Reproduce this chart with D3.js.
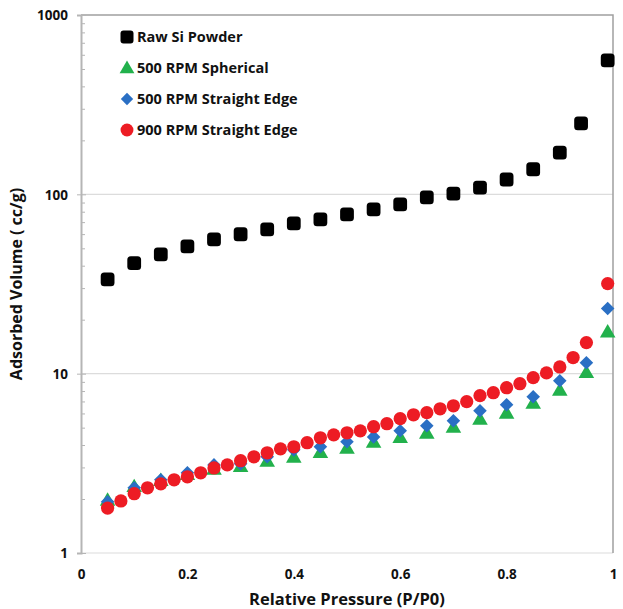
<!DOCTYPE html>
<meta charset="utf-8">
<script src="https://d3js.org/d3.v7.min.js"></script>
<style>
  body { margin: 0; background: #fff; }
  text { font-family: "Open Sans", "DejaVu Sans", sans-serif; font-weight: bold; fill: #111; }
</style>
<div id="my_dataviz"></div>
<script>

// series names
var seriesNames = ["Raw Si Powder", "500 RPM Spherical", "500 RPM Straight Edge", "900 RPM Straight Edge"];

// relative pressure for raw, spherical and 500 rpm straight edge
var pRaw = [0.05, 0.10, 0.15, 0.20, 0.25, 0.30, 0.35, 0.40, 0.45, 0.50, 0.55, 0.60, 0.65, 0.70, 0.75, 0.80, 0.85, 0.90, 0.94, 0.99];
var vRaw = [33.6, 41.3, 46.3, 51.3, 56.1, 59.9, 63.8, 68.9, 72.6, 77.4, 82.5, 88.0, 96.2, 101, 109, 121, 138, 171, 249, 558];

var p500 = [0.05, 0.10, 0.15, 0.20, 0.25, 0.30, 0.35, 0.40, 0.45, 0.50, 0.55, 0.60, 0.65, 0.70, 0.75, 0.80, 0.85, 0.90, 0.95, 0.99];
var vSpherical = [1.98, 2.36, 2.55, 2.76, 2.95, 3.06, 3.27, 3.44, 3.66, 3.86, 4.17, 4.44, 4.68, 5.06, 5.61, 6.06, 6.88, 8.14, 10.2, 17.2];
var vStraight500 = [1.93, 2.31, 2.56, 2.80, 3.10, 3.15, 3.44, 3.76, 3.91, 4.17, 4.44, 4.80, 5.12, 5.46, 6.21, 6.71, 7.44, 9.14, 11.5, 23.1];

// 900 rpm has twice as many points
var p900 = [0.05, 0.075, 0.10, 0.125, 0.15, 0.175, 0.20, 0.225, 0.25, 0.275, 0.30, 0.325, 0.35, 0.375, 0.40, 0.425, 0.45, 0.475,
            0.50, 0.525, 0.55, 0.575, 0.60, 0.625, 0.65, 0.675, 0.70, 0.725, 0.75, 0.775, 0.80, 0.825, 0.85, 0.875, 0.90, 0.925, 0.95, 0.99];
var vStraight900 = [1.78, 1.95, 2.14, 2.31, 2.43, 2.56, 2.66, 2.80, 2.98, 3.10, 3.27, 3.44, 3.62, 3.81, 3.91, 4.12, 4.39, 4.56,
                    4.68, 4.80, 5.06, 5.26, 5.61, 5.90, 6.06, 6.37, 6.62, 6.98, 7.54, 7.83, 8.35, 8.79, 9.50, 10.1, 10.9, 12.3, 14.9, 31.8];

var xTicks = [0, 0.2, 0.4, 0.6, 0.8, 1];
var yTicks = [1, 10, 100, 1000];

// set the dimensions and margins of the graph
var margin = {top: 15, right: 10, bottom: 56, left: 81},
    width = 623 - margin.left - margin.right,
    height = 609 - margin.top - margin.bottom;

var svg = d3.select("#my_dataviz")
  .append("svg")
    .attr("width", 623)
    .attr("height", 609)
  .append("g")
    .attr("transform", "translate(" + margin.left + "," + margin.top + ")");

var x = d3.scaleLinear().domain([0, 1]).range([0, width]);
var y = d3.scaleLog().domain([1, 1000]).range([height, 0]);

// gridlines at the decades
svg.append("g")
  .selectAll("line")
  .data(yTicks.slice(0, 3))
  .enter()
  .append("line")
    .attr("x1", 0).attr("x2", width)
    .attr("y1", function(d) { return y(d); })
    .attr("y2", function(d) { return y(d); })
    .attr("stroke", "#dcdcdc")
    .attr("stroke-width", 1.2);

// top and right border
svg.append("path")
  .attr("d", "M0," + y(1000) + "H" + width + "V" + y(1))
  .attr("fill", "none")
  .attr("stroke", "#a0a0a0")
  .attr("stroke-width", 1.5);

// minor ticks on the log axis
var minor = [];
yTicks.slice(0, 3).forEach(function(d) {
  for (var k = 2; k < 10; k++) minor.push(d * k);
});
svg.append("g")
  .call(d3.axisLeft(y).tickValues(minor).tickSize(-4).tickFormat(""))
  .call(function(g) { g.select(".domain").remove(); })
  .selectAll("line").attr("stroke", "#b5b5b5");

// Y axis
var yAxis = svg.append("g")
  .call(d3.axisLeft(y).tickValues(yTicks).tickSize(4).tickPadding(9).tickFormat(d3.format("d")));
yAxis.select(".domain").attr("stroke", "#b5b5b5").attr("stroke-width", 2);
yAxis.selectAll("line").attr("stroke", "#b5b5b5").attr("x2", -4).attr("x1", 5);
yAxis.selectAll("text").style("font-size", "13.5px").attr("dy", "0.35em");

// X axis
var xAxis = svg.append("g")
  .attr("transform", "translate(0," + height + ")")
  .call(d3.axisBottom(x).tickValues(xTicks).tickSize(0).tickPadding(16).tickFormat(function(d) { return d; }));
xAxis.select(".domain").remove();
xAxis.selectAll("text").style("font-size", "13.5px");

// axis titles
svg.append("text")
  .attr("x", width / 2)
  .attr("y", height + 52)
  .attr("text-anchor", "middle")
  .style("font-size", "16.5px")
  .text("Relative Pressure (P/P0)");

svg.append("text")
  .attr("transform", "rotate(-90)")
  .attr("x", -(y(1) - 269))
  .attr("y", -59)
  .attr("text-anchor", "middle")
  .style("font-size", "16px")
  .text("Adsorbed Volume ( cc/g)");

// marker shapes
var colors = ["#000000", "#22b14c", "#2a6fc4", "#ed1c24"];
var shapes = [d3.symbolSquare, d3.symbolTriangle, d3.symbolSquare, d3.symbolCircle];
var sizes = [190, 105, 92, 138];
var rot = [0, 0, 45, 0];

function marker(i, size) {
  return d3.symbol().type(shapes[i]).size(size)();
}

function drawSeries(i, px, py) {
  var data = px.map(function(d, j) { return {p: d, v: py[j]}; });
  var g = svg.append("g");
  if (i == 0) {
    var s = Math.sqrt(sizes[0]);
    g.selectAll("rect").data(data).enter().append("rect")
      .attr("x", function(d) { return x(d.p) - s / 2; })
      .attr("y", function(d) { return y(d.v) - s / 2; })
      .attr("width", s).attr("height", s)
      .attr("rx", 3.5)
      .attr("fill", colors[0]);
  } else {
    g.selectAll("path").data(data).enter().append("path")
      .attr("transform", function(d) {
        var dy = (i == 1) ? 1.5 : 0;
        return "translate(" + x(d.p) + "," + (y(d.v) + dy) + ") rotate(" + rot[i] + ")";
      })
      .attr("d", marker(i, sizes[i]))
      .attr("fill", colors[i]);
  }
}

drawSeries(0, pRaw, vRaw);
drawSeries(1, p500, vSpherical);
drawSeries(2, p500, vStraight500);
drawSeries(3, p900, vStraight900);

// legend
var legend = svg.append("g").attr("transform", "translate(46,22)");
seriesNames.forEach(function(name, i) {
  var row = legend.append("g").attr("transform", "translate(0," + (i * 31) + ")");
  if (i == 0) {
    row.append("rect").attr("x", -6.5).attr("y", -6.5).attr("width", 13).attr("height", 13)
      .attr("rx", 3).attr("fill", colors[0]);
  } else {
    row.append("path")
      .attr("transform", "translate(0," + (i == 1 ? 1 : 0) + ") rotate(" + rot[i] + ")")
      .attr("d", marker(i, i == 1 ? 95 : (i == 2 ? 76 : 130)))
      .attr("fill", colors[i]);
  }
  row.append("text")
    .attr("x", 10)
    .attr("y", 0)
    .attr("dy", "0.36em")
    .style("font-size", "14.5px")
    .text(name);
});

</script>
